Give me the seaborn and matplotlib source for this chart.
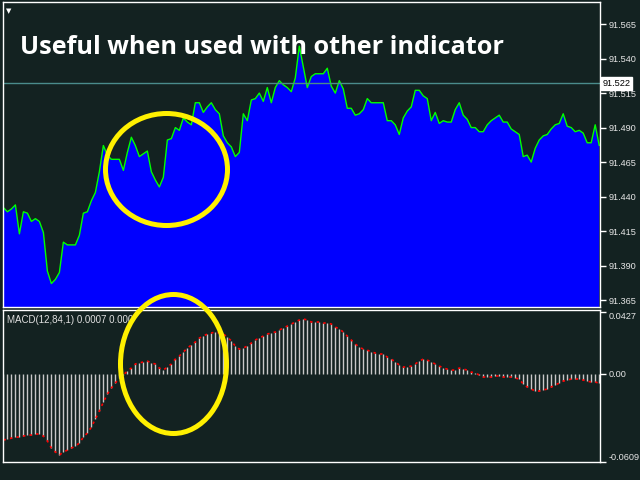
import numpy as np
import pandas as pd
import matplotlib
matplotlib.use("Agg")
import matplotlib.pyplot as plt
import matplotlib.transforms as mtransforms
import seaborn as sns
from matplotlib.patches import Ellipse

# close prices, one per bar
price = [
    91.432, 91.429, 91.431, 91.434, 91.413, 91.429, 91.428, 91.422, 91.424, 91.422,
    91.414, 91.386, 91.377, 91.380, 91.385, 91.407, 91.405, 91.405, 91.405, 91.412,
    91.428, 91.429, 91.437, 91.443, 91.458, 91.477, 91.470, 91.467, 91.467, 91.467,
    91.459, 91.472, 91.483, 91.477, 91.469, 91.471, 91.473, 91.458, 91.452, 91.447,
    91.454, 91.481, 91.482, 91.490, 91.488, 91.497, 91.494, 91.492, 91.508, 91.508,
    91.501, 91.505, 91.508, 91.503, 91.500, 91.484, 91.479, 91.476, 91.469, 91.472,
    91.500, 91.495, 91.510, 91.511, 91.515, 91.509, 91.519, 91.508, 91.519, 91.524,
    91.521, 91.519, 91.516, 91.526, 91.549, 91.534, 91.519, 91.527, 91.529, 91.529,
    91.529, 91.533, 91.520, 91.515, 91.524, 91.518, 91.504, 91.504, 91.499, 91.500,
    91.503, 91.511, 91.508, 91.508, 91.508, 91.508, 91.495, 91.495, 91.492, 91.485,
    91.497, 91.502, 91.505, 91.517, 91.517, 91.513, 91.511, 91.495, 91.501, 91.493,
    91.495, 91.494, 91.494, 91.503, 91.508, 91.499, 91.496, 91.490, 91.490, 91.487,
    91.487, 91.492, 91.495, 91.497, 91.499, 91.494, 91.494, 91.489, 91.487, 91.485,
    91.469, 91.470, 91.465, 91.475, 91.481, 91.484, 91.485, 91.489, 91.492, 91.493,
    91.500, 91.491, 91.490, 91.487, 91.488, 91.486, 91.479, 91.479, 91.492, 91.477,
]

# MACD(12,84,1) main values, signal period 1 so signal == main
macd = [
    -0.0457, -0.0451, -0.0444, -0.0437, -0.0437, -0.0430, -0.0423, -0.0423, -0.0416, -0.0416,
    -0.0430, -0.0464, -0.0513, -0.0540, -0.0561, -0.0540, -0.0527, -0.0513, -0.0499, -0.0478,
    -0.0437, -0.0409, -0.0368, -0.0312, -0.0257, -0.0195, -0.0140, -0.0098, -0.0064, -0.0029,
    -0.0008, 0.0019, 0.0040, 0.0068, 0.0075, 0.0082, 0.0088, 0.0075, 0.0068, 0.0040,
    0.0026, 0.0047, 0.0068, 0.0102, 0.0123, 0.0151, 0.0178, 0.0199, 0.0220, 0.0247,
    0.0261, 0.0275, 0.0282, 0.0289, 0.0282, 0.0275, 0.0254, 0.0227, 0.0192, 0.0171,
    0.0178, 0.0192, 0.0213, 0.0234, 0.0247, 0.0261, 0.0275, 0.0282, 0.0289, 0.0303,
    0.0316, 0.0330, 0.0344, 0.0358, 0.0372, 0.0379, 0.0372, 0.0358, 0.0358, 0.0358,
    0.0351, 0.0351, 0.0344, 0.0323, 0.0310, 0.0289, 0.0261, 0.0234, 0.0206, 0.0185,
    0.0171, 0.0164, 0.0151, 0.0144, 0.0137, 0.0137, 0.0116, 0.0102, 0.0082, 0.0061,
    0.0047, 0.0047, 0.0054, 0.0068, 0.0088, 0.0102, 0.0095, 0.0082, 0.0068, 0.0054,
    0.0040, 0.0033, 0.0026, 0.0026, 0.0040, 0.0033, 0.0026, 0.0012, 0.0006, -0.0008,
    -0.0022, -0.0022, -0.0022, -0.0015, -0.0015, -0.0022, -0.0022, -0.0022, -0.0029, -0.0036,
    -0.0070, -0.0091, -0.0105, -0.0119, -0.0119, -0.0112, -0.0105, -0.0091, -0.0077, -0.0064,
    -0.0050, -0.0043, -0.0036, -0.0036, -0.0036, -0.0043, -0.0050, -0.0057, -0.0057, -0.0064,
]

price_ticks = [91.365, 91.390, 91.415, 91.440, 91.465, 91.490, 91.515, 91.540, 91.565]
macd_ticks = [0.0427, 0.0, -0.0609]
macd_labels = ["0.0427", "0.00", "-0.0609"]
last_price = 91.522
title = "Useful when used with other indicator"
macd_text = "MACD(12,84,1) 0.0007 0.000"

df = pd.DataFrame({"bar": np.arange(len(price)), "price": price, "macd": macd})

bg = "#132221"
small = ["Liberation Sans", "DejaVu Sans"]
sns.set_style("dark")
plt.rcParams["font.family"] = small

fig = plt.figure(figsize=(6.4, 4.8), dpi=100, facecolor=bg)
ax1 = fig.add_axes([3/640, 1 - 307/480, 597/640, 305/480])
ax2 = fig.add_axes([3/640, 1 - 462/480, 597/640, 152/480])

for ax in (ax1, ax2):
    ax.set_facecolor(bg)
    ax.grid(False)
    for s in ax.spines.values():
        s.set_color("white")
        s.set_linewidth(1)
    ax.set_xlim(-0.1, 149.2)
    ax.yaxis.tick_right()
    ax.tick_params(axis="y", colors="white", labelcolor="#e6e6e6", labelsize=6.6,
                   length=4, width=1, pad=2, direction="out", right=True, left=False)

# price area chart
ylo, yhi = 91.360, 91.581
ax1.fill_between(df["bar"], df["price"], ylo - 1, color="#0000ff", lw=0)
sns.lineplot(data=df, x="bar", y="price", ax=ax1, color="#00ff00", lw=1)
ax1.axhline(last_price, color="#4a8c8c", lw=1)
ax1.set_ylim(ylo, yhi)
ax1.set_yticks(price_ticks)
ax1.set_yticklabels([f"{v:.3f}" for v in price_ticks])
ax1.set_xticks([])
ax1.set_xlabel("")
ax1.set_ylabel("")
tr = mtransforms.blended_transform_factory(ax1.transAxes, ax1.transData)
ax1.text(1.004, last_price, f"{last_price:.3f}", transform=tr, fontsize=6.6, color="black",
         va="center", ha="left", clip_on=False,
         bbox=dict(boxstyle="square,pad=0.2", fc="white", ec="white"))

# MACD histogram + dotted signal
ax2.vlines(df["bar"], 0, df["macd"], color="#c8c8c8", lw=1)
sns.lineplot(data=df, x="bar", y="macd", ax=ax2, color="#ff0000", lw=1.2,
             linestyle=(0, (1.5, 2.5)))
ax2.set_ylim(-0.0609, 0.0441)
ax2.set_yticks(macd_ticks)
ax2.set_yticklabels(macd_labels)
labs = ax2.get_yticklabels()
labs[0].set_va("top")
labs[2].set_va("bottom")
ax2.set_xticks(np.arange(0, 150, 16))
ax2.tick_params(axis="x", colors="white", length=3, width=1, labelbottom=False)
ax2.set_xlabel("")
ax2.set_ylabel("")

# texts
fig.text(20/640, 1 - 47/480, title, fontsize=18.2, fontweight="bold",
         family=["Open Sans", "DejaVu Sans"], color="white", va="center", ha="left")
fig.text(7/640, 1 - 320/480, macd_text, fontsize=7, color="#e0e0e0", va="center", ha="left")
fig.text(9/640, 1 - 11/480, "\u25bc", fontsize=5, color="white", va="center", ha="center",
         family=["DejaVu Sans"])

# highlight circles
for cx, cy, w, h in [(166.5, 169.5, 122, 112), (173.5, 364, 106, 139)]:
    fig.patches.append(Ellipse((cx/640, 1 - cy/480), w/640, h/480, transform=fig.transFigure,
                               fill=False, ec="#fff000", lw=3.6, zorder=10))

fig.savefig("out.png", dpi=100, facecolor=bg)
